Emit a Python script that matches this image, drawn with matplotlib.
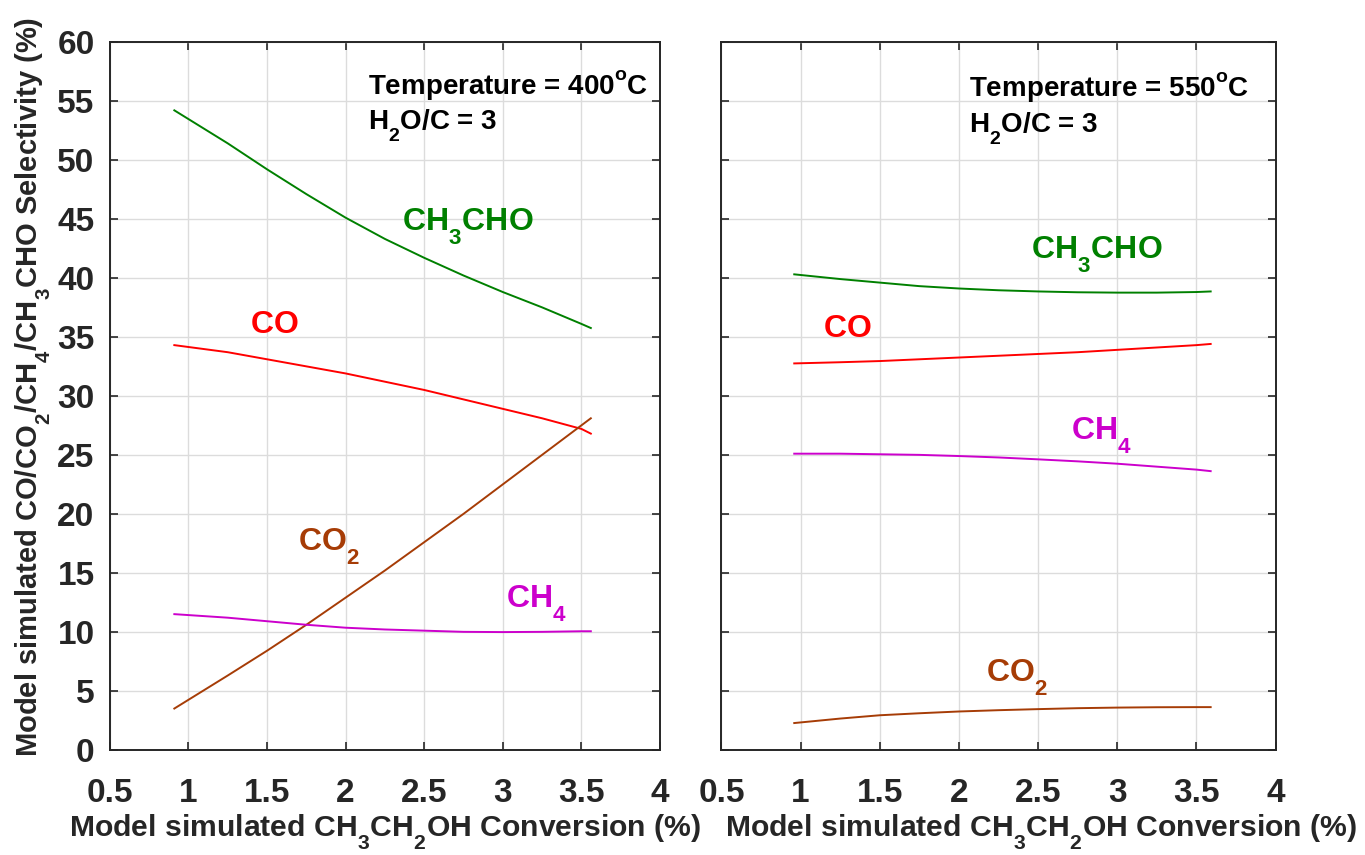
import matplotlib
matplotlib.use("Agg")
import matplotlib.pyplot as plt

try:
    from matplotlib import _mathtext as _mt
    _mt.FontConstantsBase.sub1 = 0.85
    _mt.FontConstantsBase.subdrop = 0.5
    _mt.FontConstantsBase.sup1 = 0.9
except Exception:
    pass

plt.rcParams['font.family'] = ['Liberation Sans', 'DejaVu Sans']
plt.rcParams['font.weight'] = 'bold'
plt.rcParams['mathtext.fontset'] = 'custom'
plt.rcParams['mathtext.rm'] = 'Liberation Sans:bold'
plt.rcParams['mathtext.it'] = 'Liberation Sans:bold'
plt.rcParams['mathtext.bf'] = 'Liberation Sans:bold'
plt.rcParams['mathtext.default'] = 'bf'

# ---- data: left panel (400 C) ----
x_400 = [0.91, 1.25, 1.5, 1.75, 2.0, 2.25, 2.5, 2.75, 3.0, 3.25, 3.5, 3.56]
ch3cho_400 = [54.2, 51.4, 49.2, 47.1, 45.1, 43.3, 41.7, 40.2, 38.8, 37.5, 36.1, 35.75]
co_400 = [34.3, 33.7, 33.1, 32.5, 31.9, 31.2, 30.5, 29.7, 28.9, 28.1, 27.2, 26.8]
co2_400 = [3.5, 6.3, 8.4, 10.6, 12.9, 15.2, 17.6, 20.0, 22.5, 25.0, 27.5, 28.1]
ch4_400 = [11.5, 11.2, 10.9, 10.6, 10.35, 10.2, 10.1, 10.0, 9.98, 10.0, 10.05, 10.05]

# ---- data: right panel (550 C) ----
x_550 = [0.96, 1.25, 1.5, 1.75, 2.0, 2.25, 2.5, 2.75, 3.0, 3.25, 3.5, 3.59]
ch3cho_550 = [40.3, 39.9, 39.6, 39.3, 39.1, 38.95, 38.85, 38.78, 38.75, 38.75, 38.8, 38.85]
co_550 = [32.75, 32.85, 32.95, 33.1, 33.25, 33.4, 33.55, 33.7, 33.9, 34.1, 34.3, 34.4]
ch4_550 = [25.1, 25.1, 25.05, 25.0, 24.9, 24.78, 24.62, 24.45, 24.25, 24.0, 23.75, 23.62]
co2_550 = [2.27, 2.65, 2.93, 3.1, 3.25, 3.36, 3.45, 3.53, 3.58, 3.61, 3.62, 3.62]

x_ticks = [0.5, 1, 1.5, 2, 2.5, 3, 3.5, 4]
x_ticklabels = ['0.5', '1', '1.5', '2', '2.5', '3', '3.5', '4']
y_ticks = [0, 5, 10, 15, 20, 25, 30, 35, 40, 45, 50, 55, 60]

c_green = '#008000'
c_red = '#FF0000'
c_brown = '#A63C06'
c_mag = '#CC00CC'

fig = plt.figure(figsize=(13.65, 8.55), dpi=100)
axL = fig.add_axes([0.0805, 0.123, 0.403, 0.828])
axR = fig.add_axes([0.5285, 0.123, 0.406, 0.828])

def style(ax, show_ylabels):
    ax.set_xlim(0.5, 4)
    ax.set_ylim(0, 60)
    ax.set_xticks(x_ticks)
    ax.set_xticklabels(x_ticklabels)
    ax.set_yticks(y_ticks)
    if not show_ylabels:
        ax.set_yticklabels([])
    ax.grid(True, color='#DCDCDC', linewidth=1.0)
    ax.set_axisbelow(True)
    ax.tick_params(direction='in', length=6, width=1.2, top=True, right=True,
                   labelsize=24, colors='#262626')
    ax.tick_params(axis='x', pad=20)
    ax.tick_params(axis='y', pad=11)
    for lab in ax.get_xticklabels() + ax.get_yticklabels():
        lab.set_fontweight('bold')
    for s in ax.spines.values():
        s.set_linewidth(1.4)
        s.set_color('#262626')

style(axL, True)
style(axR, False)

lw = 1.4
axL.plot(x_400, ch3cho_400, color=c_green, lw=lw)
axL.plot(x_400, co_400, color=c_red, lw=lw)
axL.plot(x_400, co2_400, color=c_brown, lw=lw)
axL.plot(x_400, ch4_400, color=c_mag, lw=lw)

axR.plot(x_550, ch3cho_550, color=c_green, lw=lw)
axR.plot(x_550, co_550, color=c_red, lw=lw)
axR.plot(x_550, ch4_550, color=c_mag, lw=lw)
axR.plot(x_550, co2_550, color=c_brown, lw=lw)

lab_fs = 23
axL.text(2.36, 44.0, r'$CH_3CHO$', color=c_green, fontsize=lab_fs, va='baseline', ha='left')
axL.text(1.39, 35.3, r'$CO$', color=c_red, fontsize=lab_fs, va='baseline', ha='left')
axL.text(1.70, 16.9, r'$CO_2$', color=c_brown, fontsize=lab_fs, va='baseline', ha='left')
axL.text(3.02, 12.1, r'$CH_4$', color=c_mag, fontsize=lab_fs, va='baseline', ha='left')

axR.text(2.455, 41.6, r'$CH_3CHO$', color=c_green, fontsize=lab_fs, va='baseline', ha='left')
axR.text(1.14, 35.0, r'$CO$', color=c_red, fontsize=lab_fs, va='baseline', ha='left')
axR.text(2.705, 26.3, r'$CH_4$', color=c_mag, fontsize=lab_fs, va='baseline', ha='left')
axR.text(2.174, 5.8, r'$CO_2$', color=c_brown, fontsize=lab_fs, va='baseline', ha='left')

ann_fs = 20
axL.text(2.14, 55.6, r'Temperature = 400$^o$C', fontsize=ann_fs, fontweight='bold', va='baseline', ha='left')
axL.text(2.14, 52.6, r'H$_2$O/C = 3', fontsize=ann_fs, fontweight='bold', va='baseline', ha='left')
axR.text(2.065, 55.4, r'Temperature = 550$^o$C', fontsize=ann_fs, fontweight='bold', va='baseline', ha='left')
axR.text(2.065, 52.3, r'H$_2$O/C = 3', fontsize=ann_fs, fontweight='bold', va='baseline', ha='left')

xl = r'Model simulated CH$_3$CH$_2$OH Conversion (%)'
axL.set_xlabel(xl, fontsize=21.7, fontweight='bold', color='#262626')
axR.set_xlabel(xl, fontsize=21.7, fontweight='bold', color='#262626')
axL.xaxis.set_label_coords(0.5, -0.088)
axR.xaxis.set_label_coords(0.577, -0.088)
axL.set_ylabel(r'Model simulated CO/CO$_2$/CH$_4$/CH$_3$CHO Selectivity (%)',
               fontsize=21, fontweight='bold', color='#262626')
axL.yaxis.set_label_coords(-0.104, 0.512)

fig.savefig('out.png', dpi=100)
